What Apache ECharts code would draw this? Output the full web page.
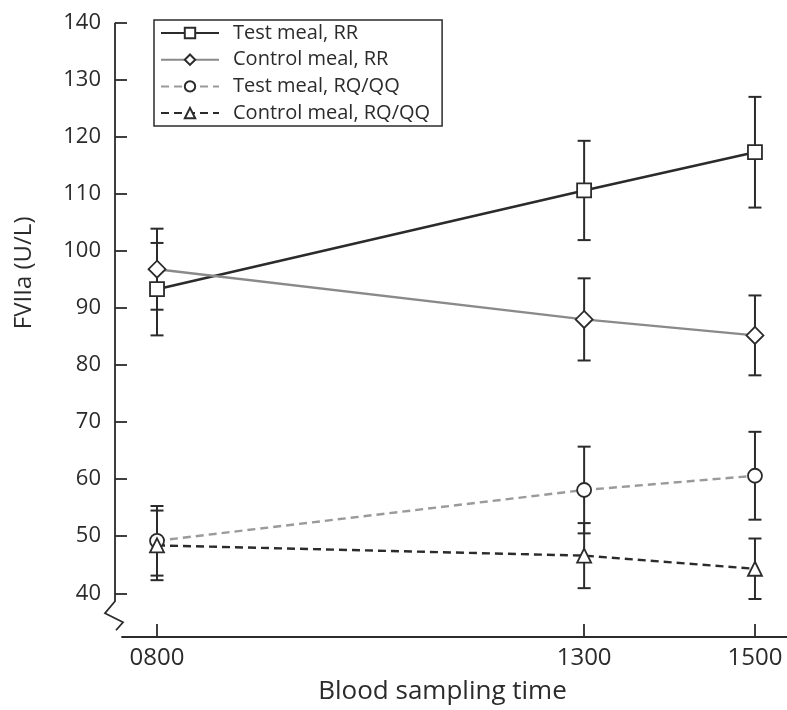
<!DOCTYPE html>
<html>
<head>
<meta charset="utf-8">
<title>FVIIa by blood sampling time</title>
<script src="https://cdn.jsdelivr.net/npm/echarts@6/dist/echarts.min.js"></script>
<style>
  html, body { margin: 0; padding: 0; background: #fff; }
  #chart { width: 787px; height: 710px; }
</style>
</head>
<body>
<div id="chart"></div>
<script>
// Sampling times (hours of day) and their printed labels
const times = [8, 13, 15];
const timeLabels = ['0800', '1300', '1500'];

// Y tick labels
const yTicks = [40, 50, 60, 70, 80, 90, 100, 110, 120, 130, 140];

// Group means and error half-widths (U/L)
const testRR = [93.3, 110.6, 117.3];
const testRRErr = [8.1, 8.7, 9.7];
const controlRR = [96.8, 88.0, 85.2];
const controlRRErr = [7.1, 7.2, 7.0];
const testRQ = [49.2, 58.1, 60.6];
const testRQErr = [6.1, 7.6, 7.7];
const controlRQ = [48.4, 46.6, 44.3];
const controlRQErr = [6.1, 5.7, 5.3];

const seriesNames = ['Test meal, RR', 'Control meal, RR', 'Test meal, RQ/QQ', 'Control meal, RQ/QQ'];

const FONT = '"Open Sans", "Noto Sans", sans-serif';
const INK = '#2b2b2b';

const X_MIN = 7.59, X_MAX = 15.375;
const Y_MIN = 32.34, Y_MAX = 140;
const AXIS_SHIFT = 7; // y axis sits a little left of where the x axis begins

function pairs(vals) { return times.map((t, i) => [t, vals[i]]); }
function errRows(vals, errs) { return times.map((t, i) => [t, vals[i] - errs[i], vals[i] + errs[i]]); }

function errorBars(vals, errs) {
  return {
    type: 'custom',
    z: 1,
    silent: true,
    data: errRows(vals, errs),
    renderItem: function (params, api) {
      const x = api.value(0);
      const lo = api.coord([x, api.value(1)]);
      const hi = api.coord([x, api.value(2)]);
      const hw = 6.5;
      const style = { stroke: INK, lineWidth: 2 };
      return {
        type: 'group',
        children: [
          { type: 'line', shape: { x1: lo[0], y1: lo[1], x2: hi[0], y2: hi[1] }, style: style },
          { type: 'line', shape: { x1: lo[0] - hw, y1: lo[1], x2: lo[0] + hw, y2: lo[1] }, style: style },
          { type: 'line', shape: { x1: hi[0] - hw, y1: hi[1], x2: hi[0] + hw, y2: hi[1] }, style: style }
        ]
      };
    }
  };
}

function lineSeries(name, vals, symbol, size, color, width, dashed) {
  return {
    name: name,
    type: 'line',
    z: 3,
    data: pairs(vals),
    symbol: symbol,
    symbolSize: size,
    showAllSymbol: true,
    lineStyle: { color: color, width: width, type: dashed ? [8, 5] : 'solid' },
    itemStyle: { color: '#fff', borderColor: INK, borderWidth: 1.8 },
    emphasis: { disabled: true }
  };
}

const chart = echarts.init(document.getElementById('chart'));

chart.setOption({
  animation: false,
  backgroundColor: '#fff',
  grid: { left: 122, right: 0, top: 22.7, bottom: 69, containLabel: false },
  legend: {
    data: seriesNames,
    orient: 'vertical',
    left: 154,
    top: 20,
    padding: [2, 12, 2, 6],
    itemWidth: 58,
    itemHeight: 13,
    itemGap: 4.7,
    borderColor: INK,
    borderWidth: 1.5,
    selectedMode: false,
    textStyle: { fontFamily: FONT, fontSize: 20, color: INK, lineHeight: 22, padding: [0, 0, 0, 9] }
  },
  xAxis: {
    type: 'value',
    min: X_MIN,
    max: X_MAX,
    splitLine: { show: false },
    axisLine: { show: true, lineStyle: { color: INK, width: 1.8 } },
    axisTick: { show: true, inside: true, length: 13, customValues: times, lineStyle: { color: INK, width: 1.8 } },
    axisLabel: {
      customValues: times,
      formatter: function (v) { const i = times.indexOf(v); return i >= 0 ? timeLabels[i] : ''; },
      fontFamily: FONT, fontSize: 24, color: INK, margin: 9
    },
    name: 'Blood sampling time',
    nameLocation: 'middle',
    nameGap: 42,
    nameTextStyle: { fontFamily: FONT, fontSize: 26, color: INK, padding: [0, 24, 0, 0] }
  },
  yAxis: {
    type: 'value',
    min: Y_MIN,
    max: Y_MAX,
    offset: AXIS_SHIFT,
    splitLine: { show: false },
    axisLine: { show: false },
    axisTick: { show: true, inside: true, length: 12, customValues: yTicks, lineStyle: { color: INK, width: 1.8 } },
    axisLabel: { customValues: yTicks, fontFamily: FONT, fontSize: 22, color: INK, margin: 14 },
    name: 'FVIIa (U/L)',
    nameLocation: 'middle',
    nameGap: 79,
    nameTextStyle: { fontFamily: FONT, fontSize: 24, color: INK, padding: [0, 0, 0, 114] }
  },
  series: [
    errorBars(testRR, testRRErr),
    errorBars(controlRR, controlRRErr),
    errorBars(testRQ, testRQErr),
    errorBars(controlRQ, controlRQErr),
    lineSeries(seriesNames[0], testRR, 'rect', 14, '#2b2b2b', 2.6, false),
    lineSeries(seriesNames[1], controlRR, 'diamond', 17, '#8a8a8a', 2.4, false),
    lineSeries(seriesNames[2], testRQ, 'circle', 14, '#9a9a9a', 2.4, true),
    lineSeries(seriesNames[3], controlRQ, 'triangle', 14, '#2b2b2b', 2.4, true)
  ]
});

// Y axis line with a break mark below the lowest tick
(function drawYAxisLine() {
  const ax = chart.convertToPixel({ xAxisIndex: 0 }, X_MIN) - AXIS_SHIFT;
  const yTop = chart.convertToPixel({ yAxisIndex: 0 }, Y_MAX);
  const yEnd = chart.convertToPixel({ yAxisIndex: 0 }, 38.6);
  chart.setOption({
    graphic: [{
      type: 'polyline',
      silent: true,
      shape: {
        points: [
          [ax, yTop], [ax, yEnd],
          [ax - 10, yEnd + 12], [ax + 8, yEnd + 21], [ax + 1, yEnd + 29]
        ]
      },
      style: { stroke: INK, lineWidth: 1.8, fill: null }
    }]
  });
})();
</script>
</body>
</html>
